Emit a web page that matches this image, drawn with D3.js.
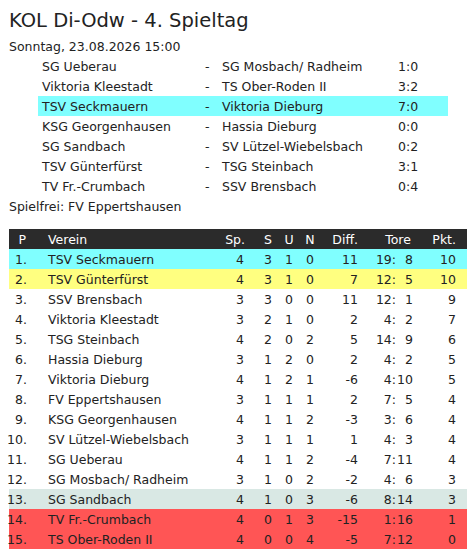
<!DOCTYPE html><html><head><meta charset="utf-8"><script src="https://cdn.jsdelivr.net/npm/d3@7"></script>
<style>body{margin:0;background:#fff}text{font-family:"DejaVu Sans",Verdana,sans-serif;fill:#222}</style></head><body><svg id="c" width="475" height="557"></svg><script>
const title="KOL Di-Odw - 4. Spieltag";
const dateLine="Sonntag, 23.08.2026  15:00";
const homeTeams=["SG Ueberau","Viktoria Kleestadt","TSV Seckmauern","KSG Georgenhausen","SG Sandbach","TSV Günterfürst","TV Fr.-Crumbach"];
const awayTeams=["SG Mosbach/ Radheim","TS Ober-Roden II","Viktoria Dieburg","Hassia Dieburg","SV Lützel-Wiebelsbach","TSG Steinbach","SSV Brensbach"];
const results=["1:0","3:2","7:0","0:0","0:2","3:1","0:4"];
const highlightMatch=2;
const byeLine="Spielfrei: FV Eppertshausen";
const headers=["P","Verein","Sp.","S","U","N","Diff.","Tore","Pkt."];
const teams=["TSV Seckmauern","TSV Günterfürst","SSV Brensbach","Viktoria Kleestadt","TSG Steinbach","Hassia Dieburg","Viktoria Dieburg","FV Eppertshausen","KSG Georgenhausen","SV Lützel-Wiebelsbach","SG Ueberau","SG Mosbach/ Radheim","SG Sandbach","TV Fr.-Crumbach","TS Ober-Roden II"];
const played=[4,4,3,3,4,3,4,3,4,3,4,3,4,4,4];
const wins=[3,3,3,2,2,1,1,1,1,1,1,1,1,0,0];
const draws=[1,1,0,1,0,2,2,1,1,1,1,0,0,1,0];
const losses=[0,0,0,0,2,0,1,1,2,1,2,2,3,3,4];
const goalsFor=[19,12,12,4,14,4,4,7,3,4,7,4,8,1,7];
const goalsAgainst=[8,5,1,2,9,2,10,5,6,3,11,6,14,16,12];
const points=[10,10,9,7,6,5,5,4,4,4,4,3,3,1,0];
const rowColors=["#80ffff","#ffff80",null,null,null,null,null,null,null,null,null,null,"#d9e8e4","#ff5555","#ff5555"];

const svg=d3.select("#c");
svg.append("text").attr("x",9).attr("y",27).attr("font-size",19.5).text(title);
svg.append("text").attr("x",9).attr("y",51).attr("font-size",12.5).text(dateLine);
const my=d3.scaleBand().domain(d3.range(homeTeams.length)).range([56,196]);
svg.append("rect").attr("x",38).attr("y",my(highlightMatch)).attr("width",410).attr("height",my.bandwidth()).attr("fill","#80ffff");
const mg=svg.append("g").attr("font-size",12.5);
homeTeams.forEach((h,i)=>{const y=my(i)+my.bandwidth()/2+4.5;
 mg.append("text").attr("x",42).attr("y",y).text(h);
 mg.append("text").attr("x",205).attr("y",y).text("-");
 mg.append("text").attr("x",222).attr("y",y).text(awayTeams[i]);
 mg.append("text").attr("x",398).attr("y",y).text(results[i]);});
svg.append("text").attr("x",9).attr("y",211).attr("font-size",12.5).text(byeLine);

const ty=d3.scaleBand().domain(d3.range(teams.length+1)).range([229,549]);
svg.append("rect").attr("x",9).attr("y",ty(0)).attr("width",458).attr("height",ty.bandwidth()).attr("fill","#2b2b2b");
const hx=[[26,"end"],[48,"start"],[245,"end"],[268,"middle"],[289,"middle"],[310,"middle"],[358,"end"],[398,"middle"],[456,"end"]];
headers.forEach((h,i)=>svg.append("text").attr("x",hx[i][0]).attr("y",ty(0)+15).attr("text-anchor",hx[i][1]).attr("font-size",12.5).style("fill","#fff").text(h));
const tg=svg.append("g").attr("font-size",12.5);
teams.forEach((t,i)=>{const y0=ty(i+1),y=y0+15;
 if(rowColors[i]) tg.append("rect").attr("x",9).attr("y",y0).attr("width",458).attr("height",ty.bandwidth()).attr("fill",rowColors[i]);
 const cells=[[27,"end",(i+1)+"."],[48,"start",t],[244,"end",played[i]],[268,"middle",wins[i]],[289,"middle",draws[i]],[310,"middle",losses[i]],[358,"end",goalsFor[i]-goalsAgainst[i]],[396,"end",goalsFor[i]+":"],[413,"end",goalsAgainst[i]],[456,"end",points[i]]];
 cells.forEach(c=>tg.append("text").attr("x",c[0]).attr("y",y).attr("text-anchor",c[1]).text(c[2]));});
</script></body></html>
